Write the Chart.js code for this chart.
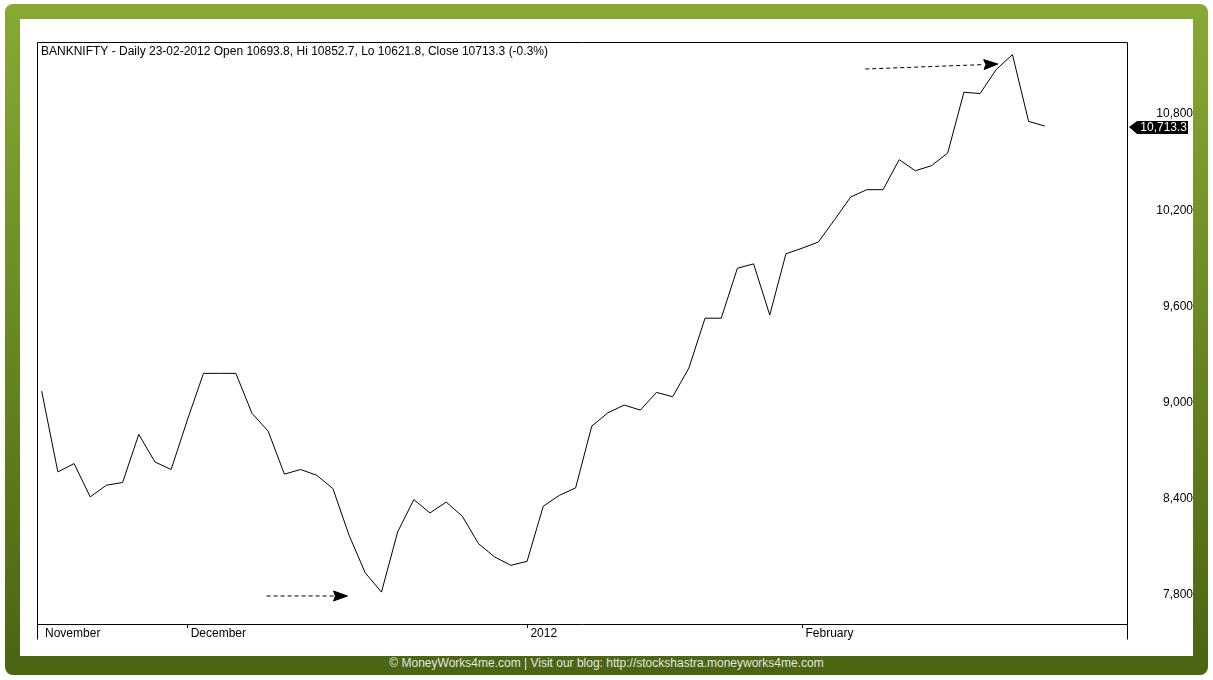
<!DOCTYPE html>
<html>
<head>
<meta charset="utf-8">
<title>BANKNIFTY - Daily</title>
<script src="https://cdn.jsdelivr.net/npm/chart.js@4.4.1/dist/chart.umd.min.js"></script>
<style>
    html, body { margin: 0; padding: 0; background: #fff; }
    body { width: 1213px; height: 680px; position: relative; overflow: hidden; font-family: "Liberation Sans", Arial, sans-serif; }
    #frame {
        position: absolute; left: 5px; top: 4px; width: 1203px; height: 671px;
        border-radius: 8px;
        background: linear-gradient(to bottom, #86aa34, #4a6512);
    }
    #panel {
        position: absolute; left: 20px; top: 19px; width: 1173px; height: 637px;
        background: #fff;
    }
    #footer {
        position: absolute; left: 5px; top: 656px; width: 1203px; height: 15px;
        line-height: 15px; text-align: center; font-size: 12px; color: #e4e4e4;
    }
</style>
</head>
<body>
<div id="frame"></div>
<div id="panel"><canvas id="priceChart" width="1173" height="637"></canvas></div>
<div id="footer">© MoneyWorks4me.com | Visit our blog: http://stockshastra.moneyworks4me.com</div>

<script>
// Daily closes, BANKNIFTY, mid Nov 2011 - 23 Feb 2012
const closes = [
    9059, 8555, 8607, 8399, 8472, 8489, 8789, 8617, 8570, 8878,
    9170, 9170, 9170, 8920, 8809, 8541, 8570, 8534, 8451, 8159,
    7925, 7805, 8180, 8382, 8299, 8367, 8278, 8107, 8024, 7972,
    7997, 8341, 8409, 8455, 8841, 8924, 8972, 8941, 9051, 9024,
    9203, 9514, 9514, 9826, 9853, 9534, 9916, 9951, 9989, 10128,
    10270, 10316, 10316, 10503, 10434, 10466, 10545, 10924, 10916, 11066,
    11159, 10742, 10713.3
];

// month markers on the time axis (bar index where the month starts)
const monthIndex = [0, 9, 30, 47];
const monthLabels = ['November', 'December', '2012', 'February'];

// price axis ticks
const priceTicks = [7800, 8400, 9000, 9600, 10200, 10800];

const titleText = 'BANKNIFTY - Daily 23-02-2012 Open 10693.8, Hi 10852.7, Lo 10621.8, Close 10713.3 (-0.3%)';

const FONT = '"Liberation Sans", Arial, sans-serif';

// dashed arrows drawn on the chart (data units)
const arrows = [
    { x0: 13.9, y0: 7781, x1: 18.9, y1: 7781 },
    { x0: 50.9, y0: 11069, x1: 59.1, y1: 11100 }
];

const framePlugin = {
    id: 'framePlugin',
    afterDraw(chart) {
        const ctx = chart.ctx;
        const a = chart.chartArea;
        const xs = chart.scales.x;
        const ys = chart.scales.y;
        const L = Math.round(a.left) + 0.5;
        const R = Math.round(a.right) + 0.5;
        const T = Math.round(a.top) + 0.5;
        const B = Math.round(a.bottom) + 0.5;

        ctx.save();
        ctx.strokeStyle = '#000';
        ctx.lineWidth = 1;
        ctx.beginPath();
        ctx.moveTo(L, B + 15);
        ctx.lineTo(L, T);
        ctx.lineTo(R, T);
        ctx.lineTo(R, B + 15);
        ctx.moveTo(L, B);
        ctx.lineTo(R, B);
        ctx.stroke();

        // title inside the plot
        ctx.fillStyle = '#000';
        ctx.font = '12px ' + FONT;
        ctx.textBaseline = 'top';
        ctx.textAlign = 'left';
        ctx.fillText(titleText, a.left + 4, a.top + 4);

        // arrows
        arrows.forEach(ar => {
            const px0 = xs.getPixelForValue(ar.x0), py0 = ys.getPixelForValue(ar.y0);
            const px1 = xs.getPixelForValue(ar.x1), py1 = ys.getPixelForValue(ar.y1);
            const ang = Math.atan2(py1 - py0, px1 - px0);
            const hl = 14, hw = 5;
            const bx = px1 - hl * Math.cos(ang), by = py1 - hl * Math.sin(ang);
            ctx.beginPath();
            ctx.setLineDash([4, 3]);
            ctx.moveTo(px0, py0);
            ctx.lineTo(bx, by);
            ctx.stroke();
            ctx.setLineDash([]);
            ctx.beginPath();
            ctx.moveTo(px1, py1);
            ctx.lineTo(bx - hw * Math.sin(ang), by + hw * Math.cos(ang));
            ctx.lineTo(bx + 2 * Math.cos(ang), by + 2 * Math.sin(ang));
            ctx.lineTo(bx + hw * Math.sin(ang), by - hw * Math.cos(ang));
            ctx.closePath();
            ctx.fill();
            ctx.stroke();
        });

        // last price tag on the price axis
        const last = closes[closes.length - 1];
        const py = Math.round(ys.getPixelForValue(last)) + 1;
        const tip = a.right + 2;
        ctx.beginPath();
        ctx.moveTo(tip, py);
        ctx.lineTo(tip + 8, py - 6);
        ctx.lineTo(a.right + 61, py - 6);
        ctx.lineTo(a.right + 61, py + 7);
        ctx.lineTo(tip + 8, py + 7);
        ctx.closePath();
        ctx.fill();
        ctx.fillStyle = '#fff';
        ctx.textAlign = 'right';
        ctx.textBaseline = 'middle';
        ctx.fillText(last.toLocaleString('en-US', { minimumFractionDigits: 1 }), a.right + 60, py + 0.5);
        ctx.restore();
    }
};

new Chart(document.getElementById('priceChart'), {
    type: 'line',
    data: {
        labels: closes.map((_, i) => i),
        datasets: [{
            data: closes,
            borderColor: '#000',
            borderWidth: 1,
            pointRadius: 0,
            tension: 0,
            fill: false
        }]
    },
    options: {
        responsive: false,
        animation: false,
        layout: { padding: { left: 17, top: 23, right: 0, bottom: 16 } },
        plugins: {
            legend: { display: false },
            tooltip: { enabled: false }
        },
        scales: {
            x: {
                type: 'linear',
                min: -0.29,
                max: 67.08,
                afterBuildTicks: (axis) => {
                    axis.ticks = monthIndex.map(v => ({ value: v }));
                },
                afterFit: (axis) => {
                    axis.height = 16;
                    axis.paddingLeft = 0;
                    axis.paddingRight = 0;
                },
                border: { display: false },
                grid: {
                    drawOnChartArea: false,
                    drawTicks: true,
                    tickLength: 4,
                    color: (c) => c.index === 0 ? 'rgba(0,0,0,0)' : '#000'
                },
                ticks: {
                    autoSkip: false,
                    maxRotation: 0,
                    align: 'start',
                    padding: -2,
                    color: '#000',
                    font: { family: FONT, size: 12 },
                    callback: (v) => ' ' + monthLabels[monthIndex.indexOf(v)]
                }
            },
            y: {
                position: 'right',
                min: 7606,
                max: 11237.5,
                afterBuildTicks: (axis) => {
                    axis.ticks = priceTicks.map(v => ({ value: v }));
                },
                afterFit: (axis) => {
                    axis.width = 66;
                    axis.paddingTop = 0;
                    axis.paddingBottom = 0;
                },
                border: { display: false },
                grid: { display: false, drawTicks: false },
                ticks: {
                    crossAlign: 'far',
                    padding: 22,
                    labelOffset: 2,
                    color: '#000',
                    font: { family: FONT, size: 12 },
                    callback: (v) => v.toLocaleString('en-US')
                }
            }
        }
    },
    plugins: [framePlugin]
});
</script>
</body>
</html>
